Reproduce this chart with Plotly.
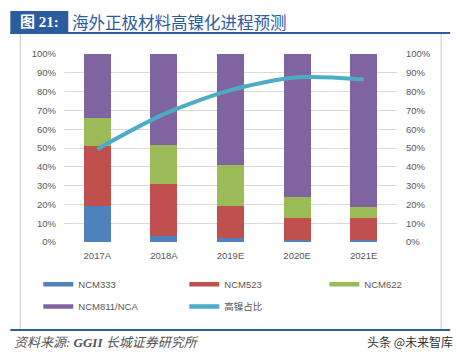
import plotly.graph_objects as go

categories = ["2017A", "2018A", "2019E", "2020E", "2021E"]
ncm333 = [0.19, 0.03, 0.023, 0.01, 0.01]
ncm523 = [0.32, 0.28, 0.171, 0.12, 0.12]
ncm622 = [0.15, 0.207, 0.215, 0.11, 0.057]
ncm811 = [0.34, 0.483, 0.591, 0.76, 0.813]
high_ni = [0.494, 0.68, 0.808, 0.876, 0.865]

series_names = ["NCM333", "NCM523", "NCM622", "NCM811/NCA"]
series_colors = ["#4F81BD", "#C0504D", "#9BBB59", "#8064A2"]
line_name = "高镍占比"
line_color = "#4BACC6"
y_ticks = [i / 10 for i in range(11)]

W, H = 457, 359
L, R, T, B = 63.7, 396.8, 54.0, 241.7


def px(x):
    return (x - L) / (R - L)


def py(y):
    return (B - y) / (B - T)


fig = go.Figure()
for name, vals, col in zip(series_names, [ncm333, ncm523, ncm622, ncm811], series_colors):
    fig.add_trace(go.Bar(x=categories, y=vals, name=name, marker=dict(color=col, line=dict(width=0)),
                         showlegend=False))

fig.add_trace(go.Scatter(x=categories, y=high_ni, name=line_name, mode="lines", yaxis="y2",
                         line=dict(color=line_color, width=4, shape="spline", smoothing=0.8),
                         showlegend=False))

# legend entries
legend_widths = [101, 95, 60, 101]
for i, (name, col) in enumerate(zip(series_names, series_colors)):
    fig.add_trace(go.Scatter(x=[None], y=[None], name=name, mode="lines",
                             line=dict(color=col, width=4.5), legendwidth=legend_widths[i],
                             legend="legend" if i < 3 else "legend2"))
fig.add_trace(go.Scatter(x=[None], y=[None], name=line_name, mode="lines",
                         line=dict(color=line_color, width=4.5), legendwidth=60, legend="legend2"))

tick_font = dict(family="Liberation Sans, Arial, sans-serif", size=9.5, color="#595959")
leg_common = dict(orientation="h", xanchor="left", yanchor="middle",
                  entrywidthmode="pixels", font=dict(family="Liberation Sans, Noto Sans CJK SC", size=9.5,
                                                    color="#595959"),
                  bgcolor="rgba(0,0,0,0)", borderwidth=0, traceorder="normal")

shapes = [
    # title box
    dict(type="rect", xref="paper", yref="paper", x0=px(10), x1=px(68), y0=py(11), y1=py(33),
         fillcolor="#2B5C9E", line=dict(width=0), layer="above"),
    dict(type="line", xref="paper", yref="paper", x0=px(10), x1=px(450), y0=py(33), y1=py(33),
         line=dict(color="#2B5C9E", width=2)),
    # frame
    dict(type="line", xref="paper", yref="paper", x0=px(20), x1=px(20), y0=py(34), y1=py(329),
         line=dict(color="#C8C8C8", width=1)),
    dict(type="line", xref="paper", yref="paper", x0=px(441), x1=px(441), y0=py(34), y1=py(329),
         line=dict(color="#C8C8C8", width=1)),
    dict(type="line", xref="paper", yref="paper", x0=px(10), x1=px(450), y0=py(329.5), y1=py(329.5),
         line=dict(color="#2B5C9E", width=2)),
]

annotations = [
    dict(text="<b>图 21:</b>", xref="paper", yref="paper", x=px(39), y=py(22), xanchor="center",
         yanchor="middle", showarrow=False,
         font=dict(family="Liberation Serif, Noto Sans CJK SC", size=15, color="white")),
    dict(text="海外正极材料高镍化进程预测", xref="paper", yref="paper", x=px(70), y=py(22),
         xanchor="left", yanchor="middle", showarrow=False,
         font=dict(family="Noto Sans CJK SC", size=16.5, color="#2B5C9E")),
    dict(text="资料来源: <b>GGII</b> 长城证券研究所", xref="paper", yref="paper", x=px(12), y=py(342),
         xanchor="left", yanchor="middle", showarrow=False,
         font=dict(family="Liberation Serif, Noto Sans CJK SC", size=13, color="#555555", style="italic")),
    dict(text="头条 @未来智库", xref="paper", yref="paper", x=px(455), y=py(341),
         xanchor="right", yanchor="middle", showarrow=False,
         font=dict(family="Noto Sans CJK SC", size=12, color="#333333")),
]

fig.update_layout(
    width=W, height=H,
    margin=dict(l=L, r=W - R, t=T, b=H - B, autoexpand=False),
    barmode="stack", bargap=0.595,
    paper_bgcolor="white", plot_bgcolor="white",
    xaxis=dict(type="category", showline=False, showgrid=False, ticks="", tickfont=tick_font,
               ticklabelstandoff=6, range=[-0.5, 4.5]),
    yaxis=dict(range=[0, 1], tickvals=y_ticks, tickformat=".0%", showgrid=True, gridcolor="#D9D9D9",
               gridwidth=1, zeroline=False, showline=False, ticks="", tickfont=tick_font,
               ticklabelstandoff=7),
    yaxis2=dict(range=[0, 1], tickvals=y_ticks, tickformat=".0%", overlaying="y", side="right",
                showgrid=False, zeroline=False, showline=False, ticks="", tickfont=tick_font,
                ticklabelstandoff=8),
    legend=dict(x=px(38), y=py(284), **leg_common),
    legend2=dict(x=px(38), y=py(306), **leg_common),
    shapes=shapes, annotations=annotations,
    showlegend=True,
)

fig.write_html("out.html", config={"displayModeBar": False},
               post_script="document.body.style.margin='0';document.body.style.padding='0';")
